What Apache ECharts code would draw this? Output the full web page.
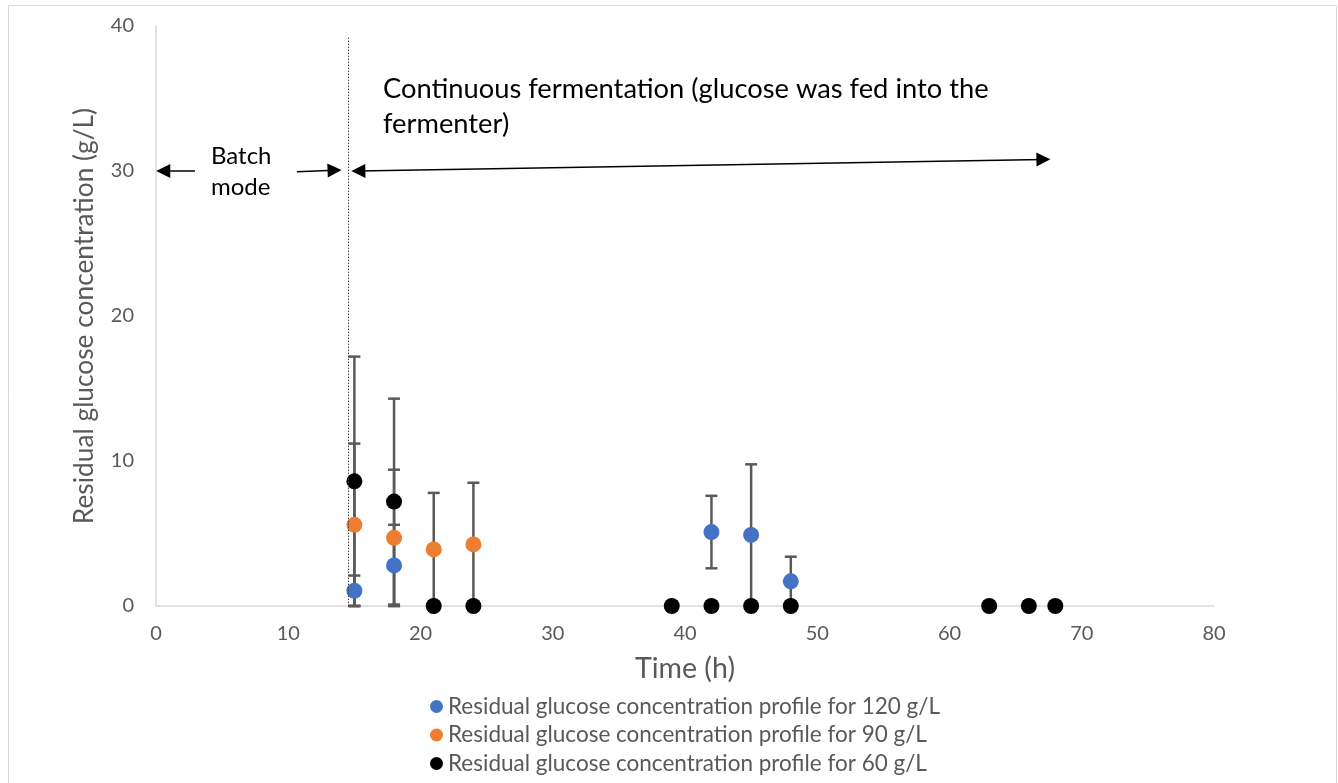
<!DOCTYPE html>
<html>
<head>
<meta charset="utf-8">
<script src="https://cdn.jsdelivr.net/npm/echarts@6/dist/echarts.min.js"></script>
<style>
  html, body { margin: 0; padding: 0; background: #fff; }
  #chart { width: 1338px; height: 783px; }
</style>
</head>
<body>
<div id="chart"></div>
<script>
// Sampling times (h) for each feed concentration
const time120 = [15, 18, 42, 45, 48];
const glucose120 = [1.05, 2.8, 5.1, 4.9, 1.7];
const err120 = [1.05, 2.8, 2.5, 4.87, 1.7];

const time90 = [15, 18, 21, 24];
const glucose90 = [5.6, 4.7, 3.9, 4.25];
const err90 = [5.6, 4.7, 3.9, 4.25];

const time60 = [15, 18, 21, 24, 39, 42, 45, 48, 63, 66, 68];
const glucose60 = [8.6, 7.2, 0, 0, 0, 0, 0, 0, 0, 0, 0];
const err60 = [8.6, 7.1, 0, 0, 0, 0, 0, 0, 0, 0, 0];

const seriesNames = [
  'Residual glucose concentration profile for 120 g/L',
  'Residual glucose concentration profile for 90 g/L',
  'Residual glucose concentration profile for 60 g/L'
];
const seriesColors = ['#4472C4', '#ED7D31', '#000000'];

const xTicks = { min: 0, max: 80, interval: 10 };
const yTicks = { min: 0, max: 40, interval: 10 };

// Boundary between batch and continuous operation (h)
const switchTime = 14.5;

const font = 'Lato, "Open Sans", sans-serif';
const grey = '#595959';

function points(xs, ys) { return xs.map((x, i) => [x, ys[i]]); }
function errorData(xs, ys, es) {
  return xs.map((x, i) => [x, Math.max(0, ys[i] - es[i]), ys[i] + es[i]]);
}

function errorSeries(xs, ys, es) {
  return {
    type: 'custom',
    z: 1,
    silent: true,
    data: errorData(xs, ys, es),
    renderItem: function (params, api) {
      const x = api.value(0);
      const lo = api.coord([x, api.value(1)]);
      const hi = api.coord([x, api.value(2)]);
      const w = 6;
      const style = { stroke: grey, lineWidth: 2.5 };
      return {
        type: 'group',
        children: [
          { type: 'line', shape: { x1: lo[0], y1: lo[1], x2: hi[0], y2: hi[1] }, style: style },
          { type: 'line', shape: { x1: hi[0] - w, y1: hi[1], x2: hi[0] + w, y2: hi[1] }, style: style },
          { type: 'line', shape: { x1: lo[0] - w, y1: lo[1], x2: lo[0] + w, y2: lo[1] }, style: style }
        ]
      };
    }
  };
}

const arrowLine = { color: '#000', width: 1.5, type: 'solid' };

const chart = echarts.init(document.getElementById('chart'), null, { renderer: 'canvas' });
chart.setOption({
  backgroundColor: '#fff',
  animation: false,
  textStyle: { fontFamily: font },
  grid: { left: 156, right: 124, top: 26, bottom: 177 },
  legend: {
    orient: 'vertical',
    left: 430,
    top: 695,
    height: 100,
    padding: 0,
    itemGap: 5.5,
    itemWidth: 13,
    itemHeight: 13,
    icon: 'circle',
    textStyle: { color: grey, fontSize: 22.5, fontFamily: font, lineHeight: 22 },
    data: seriesNames
  },
  xAxis: {
    type: 'value',
    min: xTicks.min, max: xTicks.max, interval: xTicks.interval,
    name: 'Time (h)',
    nameLocation: 'middle',
    nameGap: 48,
    nameTextStyle: { color: grey, fontSize: 28.5 },
    axisLine: { show: true, onZero: false, lineStyle: { color: '#d9d9d9', width: 1.5 } },
    axisTick: { show: false },
    axisLabel: { color: grey, fontSize: 20, margin: 18 },
    splitLine: { show: false }
  },
  yAxis: {
    type: 'value',
    min: yTicks.min, max: yTicks.max, interval: yTicks.interval,
    name: 'Residual glucose concentration (g/L)',
    nameLocation: 'middle',
    nameGap: 58,
    nameTextStyle: { color: grey, fontSize: 26.3 },
    axisLine: { show: true, lineStyle: { color: '#d9d9d9', width: 1.5 } },
    axisTick: { show: false },
    axisLabel: { color: grey, fontSize: 20, margin: 22 },
    splitLine: { show: false }
  },
  series: [
    errorSeries(time120, glucose120, err120),
    errorSeries(time90, glucose90, err90),
    errorSeries(time60, glucose60, err60),
    {
      name: seriesNames[0], type: 'scatter', z: 3, symbolSize: 16,
      itemStyle: { color: seriesColors[0], opacity: 1 },
      data: points(time120, glucose120),
      markLine: {
        silent: true,
        symbol: ['none', 'none'],
        label: { show: false },
        lineStyle: { color: '#404040', width: 1, type: [1.5, 1.5] },
        data: [[{ coord: [switchTime, 39.2] }, { coord: [switchTime, 0] }]]
      }
    },
    {
      name: seriesNames[1], type: 'scatter', z: 3, symbolSize: 16,
      itemStyle: { color: seriesColors[1], opacity: 1 },
      data: points(time90, glucose90)
    },
    {
      name: seriesNames[2], type: 'scatter', z: 4, symbolSize: 16,
      itemStyle: { color: seriesColors[2], opacity: 1 },
      data: points(time60, glucose60),
      markLine: {
        silent: true,
        symbolSize: [14, 14],
        label: { show: false },
        lineStyle: arrowLine,
        data: [
          [{ coord: [2.95, 30], symbol: 'none' }, { coord: [0.55, 30], symbol: 'triangle' }],
          [{ coord: [10.66, 29.95], symbol: 'none' }, { coord: [13.5, 30.05], symbol: 'triangle' }],
          [{ coord: [15.3, 30], symbol: 'triangle' }, { coord: [67.1, 30.8], symbol: 'triangle' }]
        ]
      }
    }
  ],
  graphic: [
    {
      type: 'rect', silent: true, z: -1,
      shape: { x: 8.5, y: 5.5, width: 1328, height: 800 },
      style: { fill: 'none', stroke: '#d9d9d9', lineWidth: 1 }
    },
    {
      type: 'text', left: 211, top: 141,
      style: { text: 'Batch\nmode', fill: '#000', font: '24px ' + font, lineHeight: 31 }
    },
    {
      type: 'text', left: 383, top: 72,
      style: {
        text: 'Continuous fermentation (glucose was fed into the\nfermenter)',
        fill: '#000', font: '27.3px ' + font, lineHeight: 35
      }
    }
  ]
});
</script>
</body>
</html>
